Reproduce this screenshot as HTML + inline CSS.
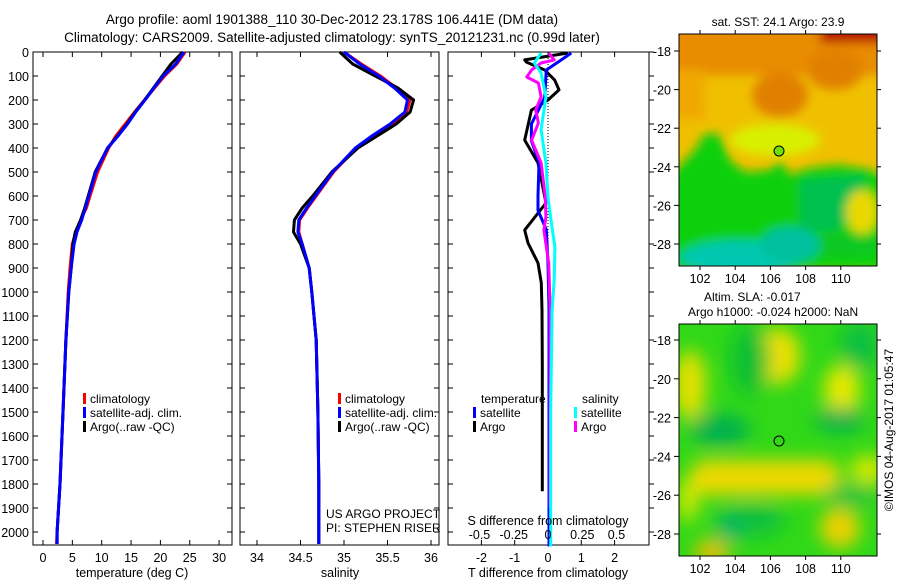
<!DOCTYPE html>
<html><head><meta charset="utf-8"><style>
body{margin:0;background:#fff;}
svg{display:block;font-family:"Liberation Sans",sans-serif;}
</style></head><body>
<svg id="chart" width="900" height="580" viewBox="0 0 900 580" xmlns="http://www.w3.org/2000/svg">
<defs>
<filter id="blur1" x="-20%" y="-20%" width="140%" height="140%"><feGaussianBlur stdDeviation="5"/></filter>
<filter id="blur2" x="-20%" y="-20%" width="140%" height="140%"><feGaussianBlur stdDeviation="9"/></filter>
<clipPath id="clipM1"><rect x="679" y="34" width="198" height="232"/></clipPath>
<clipPath id="clipM2"><rect x="679" y="324" width="198" height="232"/></clipPath>
</defs>
<text x="332" y="24" font-size="13.5" text-anchor="middle">Argo profile: aoml 1901388_110 30-Dec-2012 23.178S 106.441E (DM data)</text>
<text x="332" y="42" font-size="13.5" text-anchor="middle">Climatology: CARS2009. Satellite-adjusted climatology: synTS_20121231.nc (0.99d later)</text>
<g id="p1"></g>
<g id="p2"></g>
<g id="p3"></g>

<g>
<text x="778" y="26" font-size="12" text-anchor="middle">sat. SST: 24.1 Argo: 23.9</text>
<g clip-path="url(#clipM1)">
<rect x="679" y="34" width="198" height="232" fill="#f0c000"/>
<g filter="url(#blur1)">
<rect x="670" y="25" width="220" height="50" fill="#e88c00"/>
<rect x="670" y="70" width="35" height="50" fill="#f0a800"/>
<ellipse cx="780" cy="95" rx="28" ry="22" fill="#e08000"/>
<ellipse cx="835" cy="70" rx="28" ry="20" fill="#e08000"/>
<rect x="820" y="25" width="70" height="18" fill="#b80800"/>
<ellipse cx="775" cy="140" rx="45" ry="16" fill="#d8f000"/>
<path d="M670 175 L695 150 L705 133 L720 135 L730 160 L745 172 L770 170 L780 160 L790 175 L810 168 L840 165 L870 170 L890 180 L890 270 L670 270Z" fill="#10d010"/>
<path d="M800 180 L865 175 L860 215 L830 232 L800 228Z" fill="#00c050"/>
<ellipse cx="862" cy="212" rx="16" ry="22" fill="#e8d800"/>
<ellipse cx="845" cy="245" rx="35" ry="12" fill="#10c820"/>
<ellipse cx="740" cy="258" rx="60" ry="18" fill="#00c8b0"/>
<ellipse cx="790" cy="245" rx="30" ry="18" fill="#00c0a0"/>
</g>
</g>
<rect x="679" y="34" width="198" height="232" fill="none" stroke="#000" stroke-width="1"/>
<circle cx="779" cy="151" r="5" fill="#70e000" stroke="#000"/>
<g id="m1axes"></g>
</g>

<g>
<text x="704" y="301" font-size="12">Altim. SLA: -0.017</text>
<text x="688" y="316" font-size="12">Argo h1000: -0.024 h2000: NaN</text>
<g clip-path="url(#clipM2)">
<rect x="679" y="324" width="198" height="232" fill="#30d818"/>
<g filter="url(#blur2)">
<ellipse cx="778" cy="356" rx="22" ry="28" fill="#f0e000"/>
<ellipse cx="690" cy="385" rx="16" ry="35" fill="#e8e000"/>
<ellipse cx="842" cy="390" rx="18" ry="25" fill="#e8e800"/>
<ellipse cx="860" cy="345" rx="20" ry="25" fill="#10c040"/>
<ellipse cx="750" cy="360" rx="20" ry="35" fill="#10c030"/>
<ellipse cx="720" cy="430" rx="30" ry="16" fill="#00b050"/>
<ellipse cx="840" cy="420" rx="25" ry="12" fill="#00b050"/>
<rect x="690" y="460" width="150" height="35" rx="15" fill="#f0d800"/>
<ellipse cx="868" cy="470" rx="18" ry="15" fill="#d8e800"/>
<ellipse cx="850" cy="495" rx="25" ry="10" fill="#10c040"/>
<ellipse cx="750" cy="520" rx="35" ry="16" fill="#10c040"/>
<ellipse cx="730" cy="530" rx="12" ry="10" fill="#00b070"/>
<ellipse cx="840" cy="528" rx="20" ry="20" fill="#f0d000"/>
<ellipse cx="712" cy="552" rx="18" ry="12" fill="#f0c000"/>
<ellipse cx="688" cy="500" rx="10" ry="22" fill="#d8e800"/>
</g>
</g>
<rect x="679" y="324" width="198" height="232" fill="none" stroke="#000" stroke-width="1"/>
<circle cx="779" cy="441" r="5" fill="none" stroke="#000"/>
<g id="m2axes"></g>
</g>
<text transform="translate(893,430) rotate(-90)" font-size="12" text-anchor="middle">©IMOS 04-Aug-2017 01:05:47</text>
</svg>
<script>
// ---- data ----
const depthTicks=[0,100,200,300,400,500,600,700,800,900,1000,1100,1200,1300,1400,1500,1600,1700,1800,1900,2000];
const tempTicks=[0,5,10,15,20,25,30];
const salTicks=[34,34.5,35,35.5,36];
const tdiffTicks=[-2,-1,0,1,2];
const sdiffTicks=[-0.5,-0.25,0,0.25,0.5];
const sdiffLabels=["-0.5","-0.25","0","0.25","0.5"];
const profDepth=[0,50,100,150,200,250,300,350,400,500,600,650,700,750,800,900,1000,1200,1500,1800,2000,2050];
const tempClim=[24.2,22.8,20.7,19.0,17.3,15.6,14.0,12.4,11.2,9.3,8.0,7.4,6.4,5.6,5.0,4.6,4.3,3.9,3.4,2.9,2.4,2.3];
const tempSat=[24.0,22.6,20.5,18.9,17.4,15.8,14.4,12.8,11.0,9.0,7.8,7.2,6.6,5.8,5.3,4.8,4.4,3.9,3.4,2.9,2.4,2.4];
const tempArgo=[23.8,21.8,20.3,18.8,17.3,15.7,14.3,12.7,11.0,8.9,7.7,7.1,6.4,5.5,5.1,4.8,4.4,3.9,3.4,2.9,2.4,2.4];
const salClim=[35.0,35.2,35.42,35.6,35.76,35.72,35.55,35.33,35.14,34.88,34.68,34.58,34.49,34.48,34.52,34.6,34.63,34.68,34.7,34.71,34.71,34.71];
const salSat=[35.0,35.18,35.4,35.58,35.73,35.7,35.53,35.32,35.13,34.87,34.67,34.57,34.48,34.47,34.52,34.6,34.63,34.68,34.7,34.71,34.71,34.71];
const salArgo=[34.95,35.1,35.36,35.62,35.8,35.76,35.6,35.38,35.16,34.86,34.64,34.52,34.43,34.42,34.5,34.6,34.63,34.68,34.7,34.71,34.71,34.71];
const tdDepthSat=[4,33,75,190,300,370,460,600,660,740,880,1070,1500,2000,2060];
const tdSat=[0.7,0.4,-0.05,-0.1,-0.5,-0.5,-0.27,-0.3,-0.3,-0.05,0,0.03,0.03,0.03,0.03];
const tdDepthArgo=[4,33,42,75,117,158,200,242,367,462,629,742,796,879,962,1075,1300,1600,1830];
const tdArgo=[0.6,-0.7,-0.65,-0.1,0.2,0.33,0,-0.5,-0.7,-0.3,-0.06,-0.7,-0.6,-0.3,-0.2,-0.18,-0.17,-0.17,-0.17];
const sdDepthSat=[4,46,87,187,325,462,604,712,812,950,1075,1500,2060];
const sdSat=[-0.05,-0.1,-0.05,-0.015,-0.05,-0.015,0,0.025,0.05,0.045,0.03,0.02,0.02];
const sdDepthArgo=[4,33,46,75,104,129,187,242,296,367,462,604,687,742,879,1075,1500,1900];
const sdArgo=[0.005,0.045,-0.05,-0.12,-0.155,-0.07,-0.05,-0.09,-0.07,-0.12,-0.05,-0.02,-0.015,-0.03,0.005,0.015,0.015,0.015];
const mapLon=[102,104,106,108,110];
const mapLat=[-18,-20,-22,-24,-26,-28];

const NS="http://www.w3.org/2000/svg";
function mk(parent,tag,attrs,text){const e=document.createElementNS(NS,tag);for(const k in attrs)e.setAttribute(k,attrs[k]);if(text!==undefined)e.textContent=text;parent.appendChild(e);return e;}
const TOP=52,BOT=545;
const yD=d=>TOP+d*0.24;

function panel(g,x0,x1,xs,ticks,labels,name,leftLabels,rightTicks){
  const b=mk(g,'rect',{x:x0,y:TOP,width:x1-x0,height:BOT-TOP,fill:'none',stroke:'#000','stroke-width':1});
  
  
  depthTicks.forEach(d=>{
    const y=yD(d);
    const t=mk(g,'line',{x1:x0,x2:x0+5,y1:y,y2:y,stroke:'#000'});
    
    
    let r;
    if(rightTicks){r=mk(g,'line',{x1:x1,x2:x1+5,y1:y,y2:y,stroke:'#000'});}
    else{r=mk(g,'line',{x1:x1-5,x2:x1,y1:y,y2:y,stroke:'#000'});}
    
    
    if(leftLabels){const l=mk(g,'text',{x:29,y:y+5,'font-size':12.5,'text-anchor':'end'},String(d));
      
      }
  });
  ticks.forEach((v,i)=>{
    const x=xs(v);
    mk(g,'line',{x1:x,x2:x,y1:TOP,y2:TOP+5,stroke:'#000'});
    mk(g,'line',{x1:x,x2:x,y1:BOT-5,y2:BOT,stroke:'#000'});
    const l=mk(g,'text',{x:x,y:BOT+17,'font-size':12.5,'text-anchor':'middle'},labels[i]);
    
    
  });
}
function line(g,xs,ds,vs,color,name,w){
  const pts=ds.map((d,i)=>xs(vs[i]).toFixed(1)+','+yD(d).toFixed(1)).join(' ');
  const p=mk(g,'polyline',{points:pts,fill:'none',stroke:color,'stroke-width':w||3,'stroke-linejoin':'round'});
  
  
}
function legend(g,x,y,items){
  items.forEach((it,i)=>{
    const r=mk(g,'rect',{x:x,y:y+i*14-10,width:3,height:11,fill:it[0]});
    
    
    const t=mk(g,'text',{x:x+7,y:y+i*14,'font-size':12},it[1]);
    
    
  });
}
// panel 1
const g1=document.getElementById('p1');
const xT=v=>43+v*5.87;
panel(g1,33,232,xT,tempTicks,tempTicks.map(String),'temperature',true,false);
line(g1,xT,profDepth,tempClim,'#ff0000','temperature-climatology-line');
line(g1,xT,profDepth,tempArgo,'#000000','temperature-argo-line');
line(g1,xT,profDepth,tempSat,'#0000ff','temperature-satellite-line');
legend(g1,83,403,[['#f00','climatology'],['#00f','satellite-adj. clim.'],['#000','Argo(..raw -QC)']]);
let t=mk(g1,'text',{x:132,y:577,'font-size':12.5,'text-anchor':'middle'},'temperature (deg C)');


// panel 2
const g2=document.getElementById('p2');
const xS=v=>257+(v-34)*87;
panel(g2,240,439,xS,salTicks,salTicks.map(String),'salinity',false,false);
line(g2,xS,profDepth,salClim,'#ff0000','salinity-climatology-line');
line(g2,xS,profDepth,salArgo,'#000000','salinity-argo-line');
line(g2,xS,profDepth,salSat,'#0000ff','salinity-satellite-line');
legend(g2,338,403,[['#f00','climatology'],['#00f','satellite-adj. clim.'],['#000','Argo(..raw -QC)']]);
t=mk(g2,'text',{x:340,y:577,'font-size':12.5,'text-anchor':'middle'},'salinity');


t=mk(g2,'text',{x:326,y:518,'font-size':12},'US ARGO PROJECT');


t=mk(g2,'text',{x:326,y:532,'font-size':12},'PI: STEPHEN RISER');


// panel 3
const g3=document.getElementById('p3');
const xTd=v=>548+v*33.3;
const xSd=v=>548+v*137;
panel(g3,448,649,xTd,tdiffTicks,tdiffTicks.map(String),'t-difference',false,true);
mk(g3,'line',{x1:548,x2:548,y1:TOP,y2:BOT,stroke:'#000','stroke-dasharray':'1,2'});
line(g3,xTd,tdDepthArgo,tdArgo,'#000000','t-diff-argo-line');
line(g3,xTd,tdDepthSat,tdSat,'#0000ff','t-diff-satellite-line');
line(g3,xSd,sdDepthArgo,sdArgo,'#ff00ff','s-diff-argo-line');
line(g3,xSd,sdDepthSat,sdSat,'#00ffff','s-diff-satellite-line');
sdiffTicks.forEach((v,i)=>{const l=mk(g3,'text',{x:xSd(v),y:539,'font-size':12.5,'text-anchor':'middle'},sdiffLabels[i]);
  
  });
t=mk(g3,'text',{x:548,y:525,'font-size':12.5,'text-anchor':'middle'},'S difference from climatology');


t=mk(g3,'text',{x:548,y:577,'font-size':12.5,'text-anchor':'middle'},'T difference from climatology');


t=mk(g3,'text',{x:481,y:403,'font-size':12},'temperature');


t=mk(g3,'text',{x:582,y:403,'font-size':12},'salinity');


legend(g3,473,417,[['#00f','satellite'],['#000','Argo']]);
legend(g3,574,417,[['#0ff','satellite'],['#f0f','Argo']]);
// map axes
function mapAxes(id,y0,y1,latY){
  const g=document.getElementById(id);
  mapLon.forEach(lo=>{const x=700+(lo-102)*17.6;
    mk(g,'line',{x1:x,x2:x,y1:y1,y2:y1+4,stroke:'#000'});
    mk(g,'line',{x1:x,x2:x,y1:y0-4,y2:y0,stroke:'#000'});
    const l=mk(g,'text',{x:x,y:y1+17,'font-size':12.5,'text-anchor':'middle'},String(lo));
    
    });
  mapLat.forEach(la=>{const y=latY(la);
    mk(g,'line',{x1:674,x2:679,y1:y,y2:y,stroke:'#000'});
    mk(g,'line',{x1:877,x2:881,y1:y,y2:y,stroke:'#000'});
    const l=mk(g,'text',{x:671,y:y+5,'font-size':12.5,'text-anchor':'end'},String(la));
    
    });
}
mapAxes('m1axes',34,266,la=>51+(-18-la)*19.3);
mapAxes('m2axes',324,556,la=>340+(-18-la)*19.4);
</script>
</body></html>
